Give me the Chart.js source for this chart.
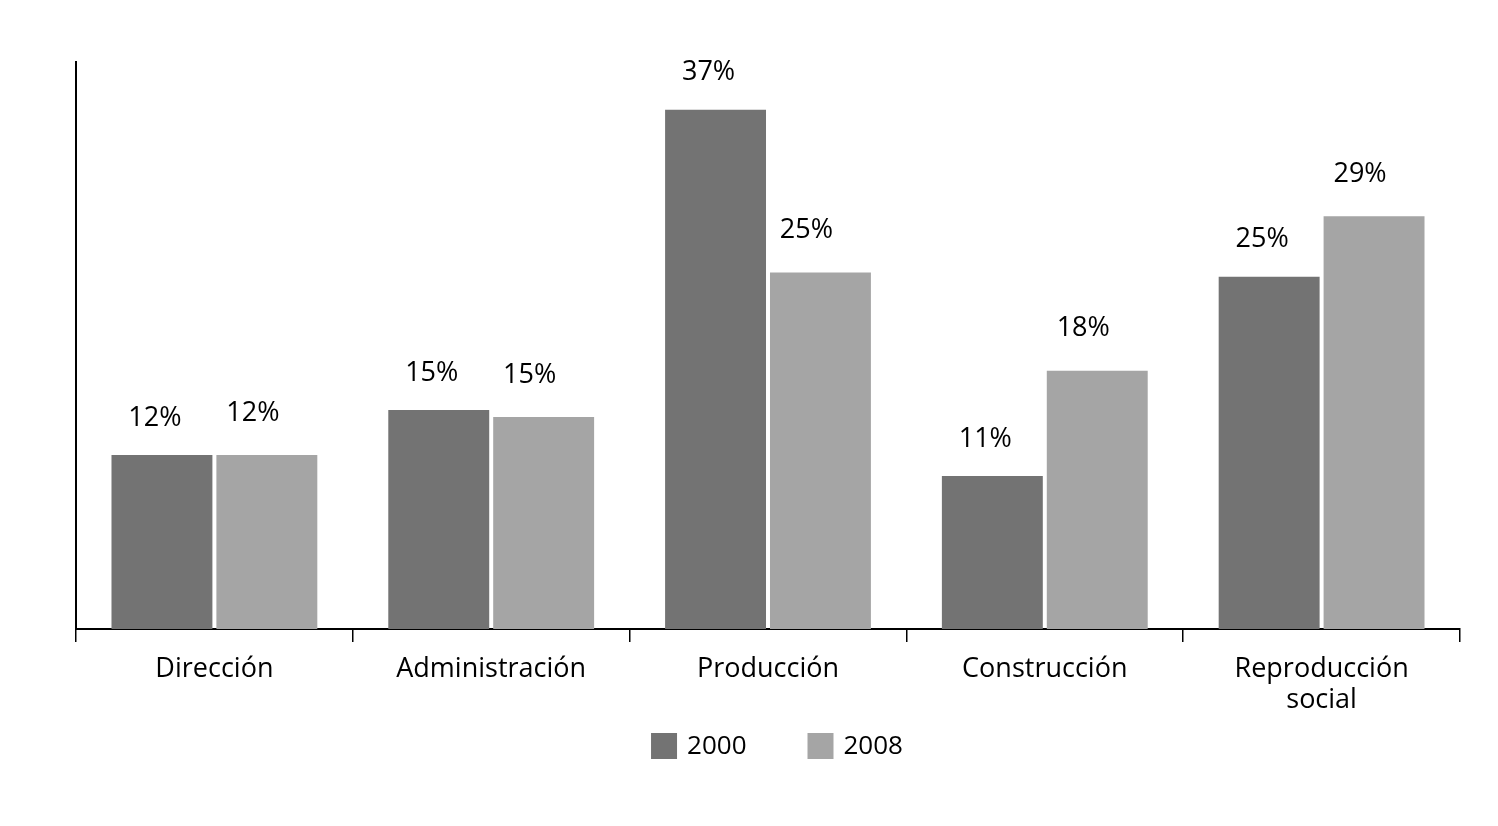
<!DOCTYPE html>
<html>
  <head>
    <meta charset="utf-8" />
    <title>Ocupación 2000 - 2008</title>
    <script src="https://cdn.jsdelivr.net/npm/chart.js@4/dist/chart.umd.min.js"></script>
    <style>
      body { margin: 0; background: #fff; }
      #wrap { width: 1498px; height: 826px; }
    </style>
    <script>
      // categorias y series
      var categorias = ["Dirección", "Administración", "Producción", "Construcción", ["Reproducción", "social"]];
      var serie2000 = [12.4, 15.6, 37.0, 10.9, 25.1];
      var serie2008 = [12.4, 15.1, 25.4, 18.4, 29.4];
      var etiquetas2000 = ["12%", "15%", "37%", "11%", "25%"];
      var etiquetas2008 = ["12%", "15%", "25%", "18%", "29%"];
      var nombresSeries = ["2000", "2008"];
    </script>
  </head>
  <body>
    <div id="wrap"><canvas id="grafico" width="1498" height="826"></canvas></div>
    <script>
      var fuente = "'Open Sans', 'Noto Sans', sans-serif";

      // dibuja el porcentaje encima de cada barra
      var etiquetasBarras = {
        id: "etiquetasBarras",
        afterDatasetsDraw: function (chart) {
          var ctx = chart.ctx;
          var textos = [etiquetas2000, etiquetas2008];
          var dy = [37, 42];
          var dx = [-7, -14];
          ctx.save();
          ctx.fillStyle = "#000";
          ctx.font = "27px " + fuente;
          ctx.textAlign = "center";
          ctx.textBaseline = "middle";
          chart.data.datasets.forEach(function (ds, i) {
            chart.getDatasetMeta(i).data.forEach(function (bar, j) {
              ctx.fillText(textos[i][j], bar.x + dx[i], bar.y - dy[i]);
            });
          });
          ctx.restore();
        },
      };

      // leyenda: cuadro + texto, centrada bajo el grafico
      var leyenda = {
        id: "leyenda",
        afterDraw: function (chart) {
          var ctx = chart.ctx;
          var caja = 26, sep = 10, entre = 61;
          var yCentro = 746;
          ctx.save();
          ctx.font = "26px " + fuente;
          ctx.textBaseline = "middle";
          var anchos = chart.data.datasets.map(function (ds) {
            return caja + sep + ctx.measureText(ds.label).width;
          });
          var total = anchos.reduce(function (a, b) { return a + b; }, 0) + entre * (anchos.length - 1);
          var x = (chart.chartArea.left + chart.chartArea.right) / 2 + 9 - total / 2;
          chart.data.datasets.forEach(function (ds, i) {
            ctx.fillStyle = ds.backgroundColor;
            ctx.fillRect(x, yCentro - caja / 2, caja, caja);
            ctx.fillStyle = "#000";
            ctx.fillText(ds.label, x + caja + sep, yCentro + 1);
            x += anchos[i] + entre;
          });
          ctx.restore();
        },
      };

      new Chart(document.getElementById("grafico"), {
        type: "bar",
        data: {
          labels: categorias,
          datasets: [
            { label: nombresSeries[0], data: serie2000, backgroundColor: "#737373" },
            { label: nombresSeries[1], data: serie2008, backgroundColor: "#a5a5a5" },
          ],
        },
        options: {
          responsive: false,
          animation: false,
          devicePixelRatio: 1,
          layout: { padding: { left: 68, right: 38, top: 62, bottom: 98 } },
          datasets: { bar: { categoryPercentage: 0.758, barPercentage: 0.962 } },
          scales: {
            x: {
              grid: {
                display: true,
                drawOnChartArea: false,
                drawTicks: true,
                tickLength: 13,
                color: "#000",
                lineWidth: 1.5,
                offset: true,
              },
              border: { display: true, color: "#000", width: 2 },
              ticks: {
                color: "#000",
                font: { family: fuente, size: 27, lineHeight: 1.15 },
                padding: 12,
                maxRotation: 0,
              },
            },
            y: {
              min: 0,
              max: 40.4,
              grid: { display: false },
              border: { display: true, color: "#000", width: 2 },
              ticks: { display: false },
            },
          },
          plugins: {
            legend: { display: false },
            tooltip: { enabled: false },
          },
        },
        plugins: [etiquetasBarras, leyenda],
      });
    </script>
  </body>
</html>
